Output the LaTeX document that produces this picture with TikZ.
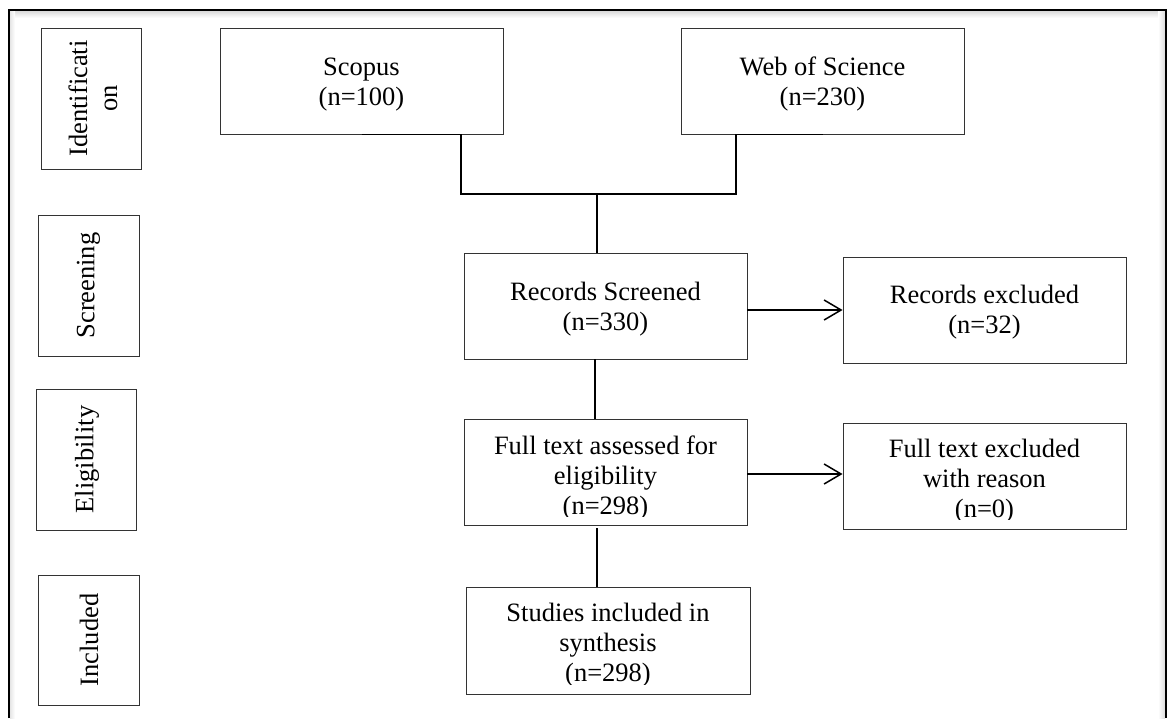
\documentclass[tikz,border=0pt]{standalone}
\usepackage{fontspec}
\setmainfont{Liberation Serif}
\usetikzlibrary{arrows.meta}
\newcommand{\fsz}{\fontsize{26.5}{30}\selectfont}
\begin{document}
\begin{tikzpicture}[x=1pt,y=-1pt,
 box/.style={draw=black!80, line width=0.9pt, inner sep=0, minimum width=283pt, minimum height=106pt},
 side/.style={draw=black!80, line width=0.9pt, inner sep=0, minimum width=100pt, minimum height=141pt},
 txt/.style={align=center, inner sep=0, font=\fsz, text=black},
 rot/.style={txt, rotate=90},
 conn/.style={draw=black, line width=1.5pt},
 arr/.style={conn, -{Straight Barb[length=17pt,width=20pt]}}]
\useasboundingbox (0,0) rectangle (1174,718);
\fill[white] (0,0) rectangle (1174,718);
% frame with faint shadow
\shade[top color=black!14, bottom color=white] (10,11) rectangle (1165,18);
\shade[left color=white, right color=black!14] (1158,11) rectangle (1165,718);
\shade[left color=black!10, right color=white] (10,11) rectangle (15,718);
\draw[line width=2pt] (9,718) -- (9,10) -- (1166,10) -- (1166,718);

% side boxes
\node[side] (id) at (91,98.5) {};
\node[rot] (idT) at (93,98.5) {Identificati\\on};
\node[side, minimum width=101pt] (scr) at (88.5,285.5) {};
\node[rot] (scrT) at (88.5,285.5) {Screening};
\node[side] (eli) at (86,459.5) {};
\node[rot] (eliT) at (87,459.5) {Eligibility};
\node[side, minimum width=101pt, minimum height=130pt] (inc) at (88.5,640) {};
\node[rot] (incT) at (89,640) {Included};

% main boxes
\node[box] (sc) at (361.5,81) {};
\node[txt] (scT) at (361.5,84.4) {Scopus\\(n=100)};
\node[box] (wos) at (822.5,81) {};
\node[txt] (wosT) at (822.5,84.4) {Web of Science\\(n=230)};
\node[box] (rs) at (605.5,306) {};
\node[txt] (rsT) at (605.5,308.9) {Records Screened\\(n=330)};
\node[box] (re) at (984.5,310) {};
\node[txt] (reT) at (984.5,312) {Records excluded\\(n=32)};
\node[box] (ft) at (605.5,472) {};
\begin{scope}
\clip (464,419) rectangle (747,516);
\node[txt] (ftT) at (605.5,478.4) {Full text assessed for\\eligibility\\(n=298)};
\end{scope}
\node[box] (fte) at (984.5,476) {};
\begin{scope}
\clip (843,423) rectangle (1126,519.5);
\node[txt] (fteT) at (984.5,481) {Full text excluded\\with reason\\(n=0)};
\end{scope}
\node[box, minimum width=284pt, minimum height=107pt] (st) at (608,640.5) {};
\begin{scope}
\clip (466,587) rectangle (750,684.5);
\node[txt] (stT) at (608,645.4) {Studies included in\\synthesis\\(n=298)};
\end{scope}

% connectors
\coordinate (j1) at (461,194);
\coordinate (j2) at (736,194);
\coordinate (jm) at (597,194);
\draw[conn] (sc.south) -| (j1) -- (j2) |- (wos.south);
\draw[conn] (jm) -- (jm |- rs.north);
\draw[arr] (rs.east |- re.west) -- (re.west);
\draw[arr] ([yshift=-2pt]ft.east) -- ([yshift=-2pt]ft.east -| fte.west);
\draw[conn] ([xshift=-10.5pt]rs.south) -- ([xshift=-10.5pt]rs.south |- ft.north);
\draw[conn] ([xshift=-8.5pt,yshift=-3pt]ft.south) -- ([xshift=-8.5pt]ft.south |- st.north);
\end{tikzpicture}
\end{document}
